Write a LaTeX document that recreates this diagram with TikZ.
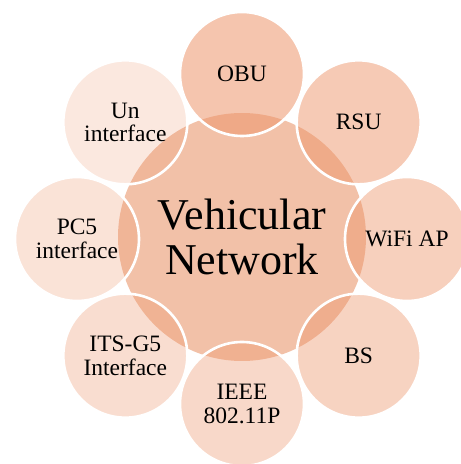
\documentclass[tikz,border=0pt]{standalone}
\usepackage{fontspec}
\setmainfont{Liberation Serif}
\usetikzlibrary{calc}
\definecolor{hubfill}{RGB}{242,193,168}
\definecolor{petalfill}{RGB}{237,150,108}
\tikzset{
  hubnode/.style={circle, fill=hubfill, minimum size=248pt, inner sep=0pt,
    align=center, font=\fontsize{44}{45}\selectfont},
  petalnode/.style={circle, fill=petalfill, fill opacity=#1, text opacity=1,
    draw=white, draw opacity=1, line width=2.6pt, minimum size=124pt,
    inner sep=0pt, align=center, font=\fontsize{23.5}{23.5}\selectfont},
}
\begin{document}
\begin{tikzpicture}
  \path[use as bounding box, clip] (0,0) rectangle (461pt,464pt);
  \coordinate (c) at (242pt,225pt);
  % central hub
  \node[hubnode] (hub) at ($(c)+(0,2pt)$) {Vehicular\\Network};
  % surrounding petals, clockwise from the top
  \node[petalnode=0.55] (obu)  at ($(c)+(90:165pt)$)  {OBU};
  \node[petalnode=0.50] (rsu)  at ($(c)+(45:165pt)$)  {RSU};
  \node[petalnode=0.45] (wifi) at ($(c)+(0:165pt)$)   {WiFi AP};
  \node[petalnode=0.42] (bs)   at ($(c)+(-45:165pt)$) {BS};
  \node[petalnode=0.37] (ieee) at ($(c)+(-90:165pt)$) {IEEE\\802.11P};
  \node[petalnode=0.32] (its)  at ($(c)+(-135:165pt)$) {ITS-G5\\Interface};
  \node[petalnode=0.27] (pcf)  at ($(c)+(180:165pt)$) {PC5\\interface};
  \node[petalnode=0.22] (un)   at ($(c)+(135:165pt)$) {Un\\interface};
\end{tikzpicture}
\end{document}
